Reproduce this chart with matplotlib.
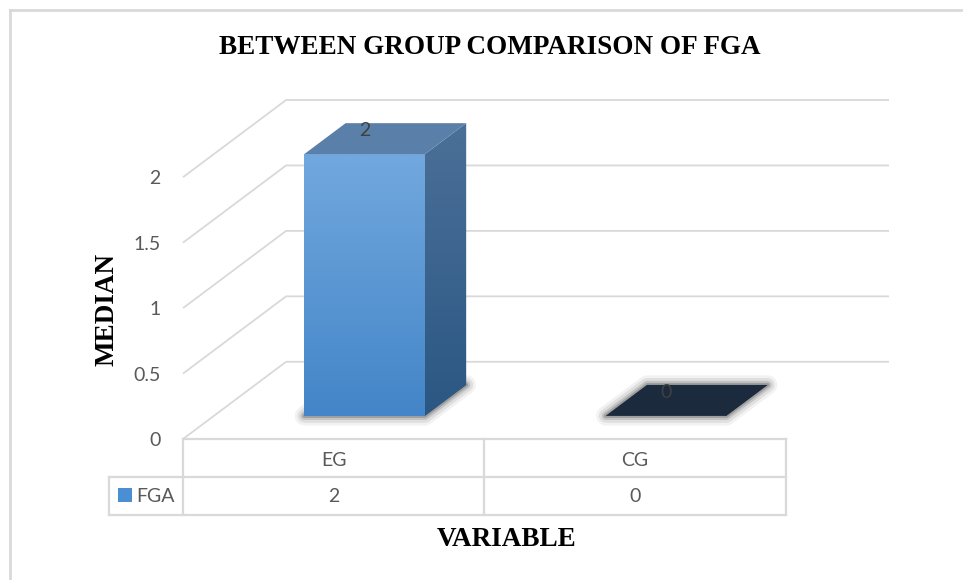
import numpy as np
import matplotlib
matplotlib.use("Agg")
import matplotlib.pyplot as plt
from matplotlib.patches import Polygon
from matplotlib.colors import LinearSegmentedColormap
import matplotlib.transforms as mtransforms

# data
groups = ["EG", "CG"]
fga_median = [2, 0]
series_name = "FGA"
y_ticks = [0, 0.5, 1, 1.5, 2]

# fake 3d projection: full depth shift in (category, value) units
DX = 0.342
DY = 0.59
FRONT, BACK = 0.3, 0.7
BAR_W = 0.4
YMAX = 2

GRID = "#d9d9d9"
TICK_COL = "#595959"
SANS = "Lato"
SERIF = "Liberation Serif"
FS = 14

fig = plt.figure(figsize=(9.63, 5.80), dpi=100)
W, H = 963, 580


def fy(px):
    return 1 - px / H


# chart frame (top + left edges only)
fig.add_artist(plt.Line2D([10 / W, 1], [fy(10), fy(10)], color="#d9d9d9", lw=2))
fig.add_artist(plt.Line2D([10 / W, 10 / W], [fy(10), 0], color="#d9d9d9", lw=2))

n = len(groups)
x0 = -0.5
x1 = n - 0.5
ax = fig.add_axes([183 / W, fy(439), 706 / W, 339 / H])
ax.set_xlim(x0, x1 + DX)
ax.set_ylim(0, YMAX + DY)
for s in ax.spines.values():
    s.set_visible(False)
ax.set_xticks([])
ax.set_yticks(y_ticks)
ax.set_yticklabels([f"{t:g}" for t in y_ticks], fontfamily=SANS, fontsize=FS, color=TICK_COL)
ax.tick_params(axis="y", length=0, pad=16)

# side wall + back wall gridlines
for t in y_ticks:
    ax.plot([x0, x0 + DX, x1 + DX], [t, t + DY, t + DY], color=GRID, lw=1.3, zorder=1,
            solid_capstyle="butt", clip_on=False)


def grad_fill(verts, c_top, c_bot, z):
    poly = Polygon(verts, closed=True, fc="none", ec="none")
    ax.add_patch(poly)
    xs = [v[0] for v in verts]
    ys = [v[1] for v in verts]
    cmap = LinearSegmentedColormap.from_list("g", [c_bot, c_top])
    im = ax.imshow(np.linspace(0, 1, 256).reshape(-1, 1), cmap=cmap, origin="lower",
                   extent=[min(xs), max(xs), min(ys), max(ys)], aspect="auto",
                   zorder=z, interpolation="bilinear")
    im.set_clip_path(poly)


def soft_shadow(verts, z):
    for lw, a in [(14, 0.05), (10, 0.08), (6, 0.12), (3, 0.18)]:
        ax.add_patch(Polygon(verts, closed=True, fc="black", ec="black", lw=lw,
                             alpha=a, joinstyle="round", zorder=z))


for i, v in enumerate(fga_median):
    fx_l = i - BAR_W / 2 + FRONT * DX
    fx_r = i + BAR_W / 2 + FRONT * DX
    fy0 = FRONT * DY
    d = (BACK - FRONT)
    bx, by = d * DX, d * DY
    top = v + fy0
    foot = [(fx_l, fy0), (fx_r, fy0), (fx_r + bx, fy0 + by), (fx_l + bx, fy0 + by)]
    soft_shadow(foot, 2)
    if v > 0:
        front = [(fx_l, fy0), (fx_r, fy0), (fx_r, top), (fx_l, top)]
        side = [(fx_r, fy0), (fx_r + bx, fy0 + by), (fx_r + bx, top + by), (fx_r, top)]
        lid = [(fx_l, top), (fx_r, top), (fx_r + bx, top + by), (fx_l + bx, top + by)]
        grad_fill(front, "#72a8de", "#4385c8", 3)
        grad_fill(side, "#4b7098", "#2b5784", 3)
        ax.add_patch(Polygon(lid, closed=True, fc="#5a7fa8", ec="none", zorder=3))
    else:
        ax.add_patch(Polygon(foot, closed=True, fc="#1b2a3d", ec="none", zorder=3))
    ax.text(i + FRONT * DX, v + 0.6 * DY, f"{v:g}", ha="center", va="center",
            fontfamily=SANS, fontsize=FS, color="#404040", zorder=5)

ax.set_xlim(x0, x1 + DX)
ax.set_ylim(0, YMAX + DY)

# data table under the floor
tr = mtransforms.blended_transform_factory(ax.transData, fig.transFigure)
r0, r1, r2 = fy(439), fy(477), fy(515)
leg_l = x0 - 74 / 301.5
tbl = dict(color=GRID, lw=1.6, transform=tr, clip_on=False)
ax.plot([x0, x1], [r0, r0], **tbl)
ax.plot([leg_l, x1], [r1, r1], **tbl)
ax.plot([leg_l, x1], [r2, r2], **tbl)
ax.plot([leg_l, leg_l], [r1, r2], **tbl)
for k in range(n + 1):
    ax.plot([x0 + k, x0 + k], [r0, r2], **tbl)
for i, (g, v) in enumerate(zip(groups, fga_median)):
    ax.text(i, fy(461), g, transform=tr, ha="center", va="center",
            fontfamily=SANS, fontsize=FS, color=TICK_COL)
    ax.text(i, fy(496), f"{v:g}", transform=tr, ha="center", va="center",
            fontfamily=SANS, fontsize=FS, color=TICK_COL)

# legend key in the table
fig.add_artist(plt.Rectangle((118 / W, fy(502)), 14 / W, 14 / H, transform=fig.transFigure,
                             fc="#4a8fd4", ec="none"))
fig.text(136 / W, fy(496), series_name, ha="left", va="center",
         fontfamily=SANS, fontsize=FS, color=TICK_COL)

# titles
fig.text(490 / W, fy(48), "BETWEEN GROUP COMPARISON OF FGA", ha="center", va="center",
         fontfamily=SERIF, fontweight="bold", fontsize=19.5)
fig.text(107 / W, fy(309), "MEDIAN", ha="center", va="center", rotation=90,
         fontfamily=SERIF, fontweight="bold", fontsize=19.5)
fig.text(507 / W, fy(539), "VARIABLE", ha="center", va="center",
         fontfamily=SERIF, fontweight="bold", fontsize=19.5)

fig.savefig("out.png", dpi=100)
